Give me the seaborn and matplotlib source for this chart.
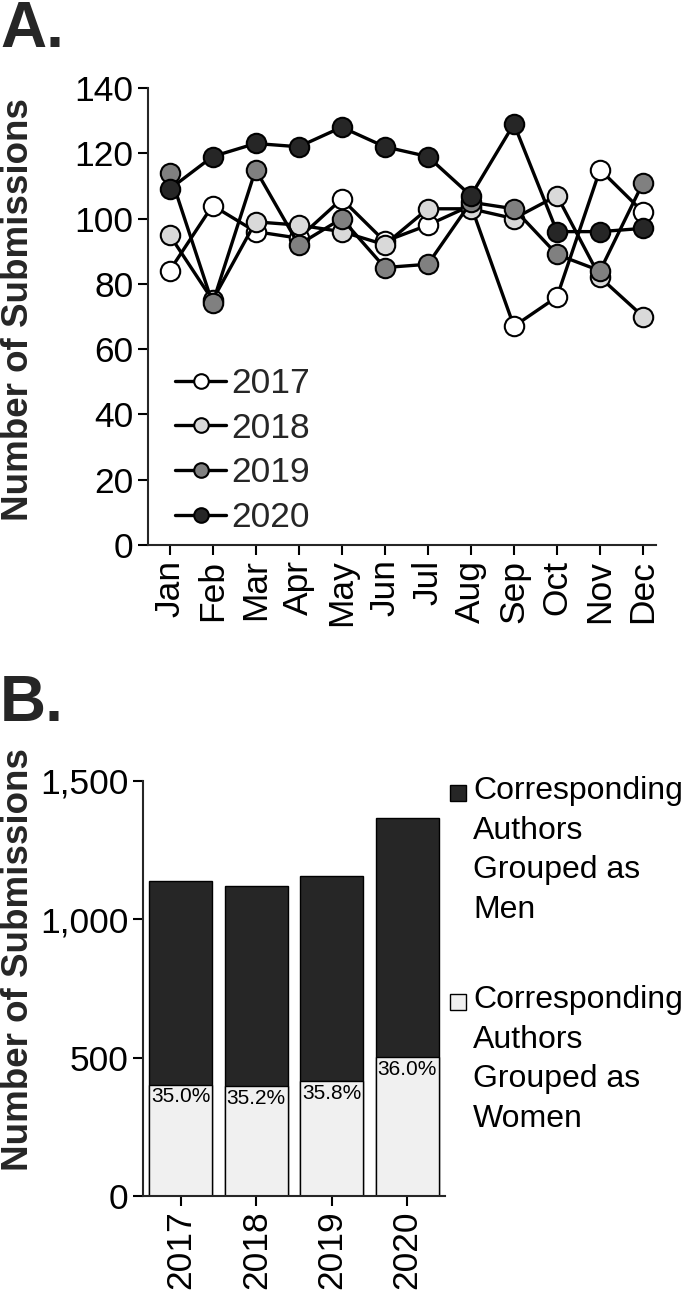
import matplotlib
matplotlib.use("Agg")
import matplotlib.pyplot as plt
import seaborn as sns
import pandas as pd
from matplotlib.patches import Rectangle

months = ["Jan", "Feb", "Mar", "Apr", "May", "Jun", "Jul", "Aug", "Sep", "Oct", "Nov", "Dec"]
s2017 = [84, 104, 96, 94, 106, 93, 98, 104, 67, 76, 115, 102]
s2018 = [95, 75, 99, 98, 96, 92, 103, 103, 100, 107, 82, 70]
s2019 = [114, 74, 115, 92, 100, 85, 86, 105, 103, 89, 84, 111]
s2020 = [109, 119, 123, 122, 128, 122, 119, 107, 129, 96, 96, 97]
years_a = ["2017", "2018", "2019", "2020"]
face_colors = ["#ffffff", "#d9d9d9", "#808080", "#262626"]

years_b = ["2017", "2018", "2019", "2020"]
total_subs = [1137, 1119, 1158, 1366]
women_subs = [403, 398, 416, 502]
pct_labels = ["35.0%", "35.2%", "35.8%", "36.0%"]
legend_b = ["Corresponding\nAuthors\nGrouped as\nMen", "Corresponding\nAuthors\nGrouped as\nWomen"]
men_color = "#262626"
women_color = "#f0f0f0"

sns.set_theme(style="ticks")
plt.rcParams["font.family"] = ["Liberation Sans", "DejaVu Sans"]
plt.rcParams["axes.linewidth"] = 1.5

W, H = 685, 1292
fig = plt.figure(figsize=(W / 100, H / 100), dpi=100)

def px_axes(left, right, top, bottom):
    return fig.add_axes([left / W, 1 - bottom / H, (right - left) / W, (bottom - top) / H])

TICK_FS = 25.5
YLAB_FS = 26.5

# ---------- Panel A ----------
axA = px_axes(148, 656, 88, 545)
dfA = pd.DataFrame({"month": list(range(12)) * 4,
                    "value": s2017 + s2018 + s2019 + s2020,
                    "year": sum([[y] * 12 for y in years_a], [])})
for yr, fc in zip(years_a, face_colors):
    sub = dfA[dfA["year"] == yr]
    sns.lineplot(data=sub, x="month", y="value", ax=axA, color="black", linewidth=2.4,
                 marker="o", markersize=14, markerfacecolor=fc, markeredgecolor="black",
                 markeredgewidth=1.5, label=yr)
axA.set_xlim(-0.5, 11.3)
axA.set_ylim(0, 140)
axA.set_yticks(range(0, 141, 20))
axA.set_xticks(range(12))
axA.set_xticklabels(months, rotation=90)
axA.set_xlabel("")
axA.set_ylabel("Number of Submissions", fontsize=YLAB_FS, fontweight="bold")
axA.yaxis.set_label_coords((36 - 148) / 508, (545 - 310) / 457)
axA.tick_params(axis="both", labelsize=TICK_FS, length=7, width=1.5, color="black", labelcolor="black")
sns.despine(ax=axA)
axA.legend(loc="upper left", bbox_to_anchor=((175 - 148) / 508, (545 - 367) / 457),
           frameon=False, fontsize=25.5, borderpad=0, borderaxespad=0, handlelength=1.45,
           handletextpad=0.15, labelspacing=0.33, markerscale=0.75)

# ---------- Panel B ----------
axB = px_axes(143, 445, 781, 1196)
dfB = pd.DataFrame({"year": years_b, "total": total_subs, "women": women_subs})
sns.barplot(data=dfB, x="year", y="total", ax=axB, color=men_color, width=0.83,
            edgecolor="black", linewidth=1, saturation=1)
sns.barplot(data=dfB, x="year", y="women", ax=axB, color=women_color, width=0.83,
            edgecolor="black", linewidth=1, saturation=1)
for i, (w, lab) in enumerate(zip(women_subs, pct_labels)):
    axB.annotate(lab, xy=(i, w), xytext=(0, -2), textcoords="offset points",
                 ha="center", va="top", fontsize=15, color="black")
axB.set_xlim(-0.5, 3.5)
axB.set_ylim(0, 1500)
axB.set_yticks([0, 500, 1000, 1500])
axB.set_yticklabels(["0", "500", "1,000", "1,500"])
axB.set_xticks(range(4))
axB.set_xticklabels(years_b, rotation=90)
axB.set_xlabel("")
axB.set_ylabel("Number of Submissions", fontsize=YLAB_FS, fontweight="bold")
axB.yaxis.set_label_coords((36 - 143) / 302, (1196 - 960) / 415)
axB.tick_params(axis="both", labelsize=TICK_FS, length=7, width=1.5, color="black", labelcolor="black")
sns.despine(ax=axB)

# manual legend for panel B
for (label, col, ytop) in [(legend_b[0], men_color, 785), (legend_b[1], women_color, 994)]:
    fig.add_artist(Rectangle((450 / W, 1 - (ytop + 16) / H), 16 / W, 16 / H,
                             transform=fig.transFigure, facecolor=col, edgecolor="black",
                             linewidth=1))
    fig.text(473 / W, 1 - (ytop - 9) / H, label, fontsize=23, va="top", ha="left",
             linespacing=1.42, color="black")

# panel letters
fig.text(0 / W, 1 - 0 / H, "A.", fontsize=46, fontweight="bold", va="top", ha="left")
fig.text(0 / W, 1 - 674 / H, "B.", fontsize=46, fontweight="bold", va="top", ha="left")

fig.savefig("out.png", dpi=100)
